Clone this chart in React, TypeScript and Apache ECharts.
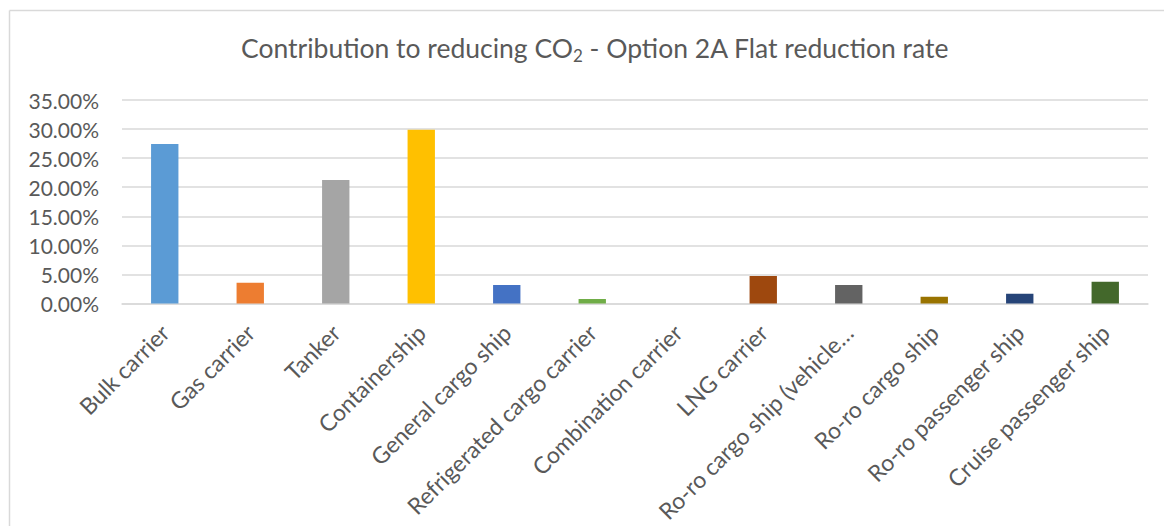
import React, { useEffect, useRef } from "react";
import * as echarts from "echarts";

const categories = [
  "Bulk carrier",
  "Gas carrier",
  "Tanker",
  "Containership",
  "General cargo ship",
  "Refrigerated cargo carrier",
  "Combination carrier",
  "LNG carrier",
  "Ro-ro cargo ship (vehicle…",
  "Ro-ro cargo ship",
  "Ro-ro passenger ship",
  "Cruise passenger ship",
];
const values = [0.2743, 0.0358, 0.2124, 0.299, 0.0318, 0.0077, 0, 0.0473, 0.0318, 0.0116, 0.0167, 0.0374];
const colors = [
  "#5B9BD5", "#ED7D31", "#A5A5A5", "#FFC000", "#4472C4", "#70AD47",
  "#255E91", "#9E480E", "#636363", "#997300", "#264478", "#43682B",
];
const yTicks = { min: 0, max: 0.35, interval: 0.05 };

export default function App() {
  const ref = useRef<HTMLDivElement>(null);
  useEffect(() => {
    const chart = echarts.init(ref.current!, undefined, { renderer: "svg" });
    chart.setOption({
      animation: false,
      backgroundColor: "#ffffff",
      title: {
        text: "{a|Contribution to reducing CO}{s|2}{a| - Option 2A Flat reduction rate}",
        left: 236,
        top: 27,
        textStyle: {
          fontWeight: "normal",
          rich: {
            a: { fontFamily: "Lato", fontSize: 26.5, fontWeight: "normal", color: "#595959" },
            s: { fontFamily: "Lato", fontSize: 17, fontWeight: "normal", color: "#595959", padding: [15, 0, 0, 0] },
          },
        },
      },
      graphic: [
        { type: "line", shape: { x1: 9.5, y1: 10.5, x2: 1164, y2: 10.5 }, style: { stroke: "#d9d9d9", lineWidth: 1.5 } },
        { type: "line", shape: { x1: 9.5, y1: 10.5, x2: 9.5, y2: 526 }, style: { stroke: "#d9d9d9", lineWidth: 1.5 } },
      ],
      grid: { left: 122, right: 16, top: 100, bottom: 222.5, containLabel: false },
      xAxis: {
        type: "category",
        data: categories,
        axisLine: { lineStyle: { color: "#d9d9d9", width: 1.5 } },
        axisTick: { show: false },
        axisLabel: {
          interval: 0,
          rotate: 45,
          fontFamily: "Lato",
          fontSize: 23,
          color: "#595959",
          margin: 25,
        },
      },
      yAxis: {
        type: "value",
        min: yTicks.min,
        max: yTicks.max,
        interval: yTicks.interval,
        axisLine: { show: false },
        axisTick: { show: false },
        splitLine: { lineStyle: { color: "#d9d9d9", width: 1.5 } },
        axisLabel: {
          formatter: (v: number) => (v * 100).toFixed(2) + "%",
          fontFamily: "Lato",
          fontSize: 21,
          color: "#595959",
          margin: 23,
        },
      },
      series: [
        {
          type: "bar",
          barWidth: "32%",
          data: values.map((v, i) => ({ value: v, itemStyle: { color: colors[i] } })),
        },
      ],
    });
    return () => chart.dispose();
  }, []);
  return (
    <div
      ref={ref}
      style={{ position: "fixed", left: 0, top: 0, width: 1164, height: 526 }}
    />
  );
}
